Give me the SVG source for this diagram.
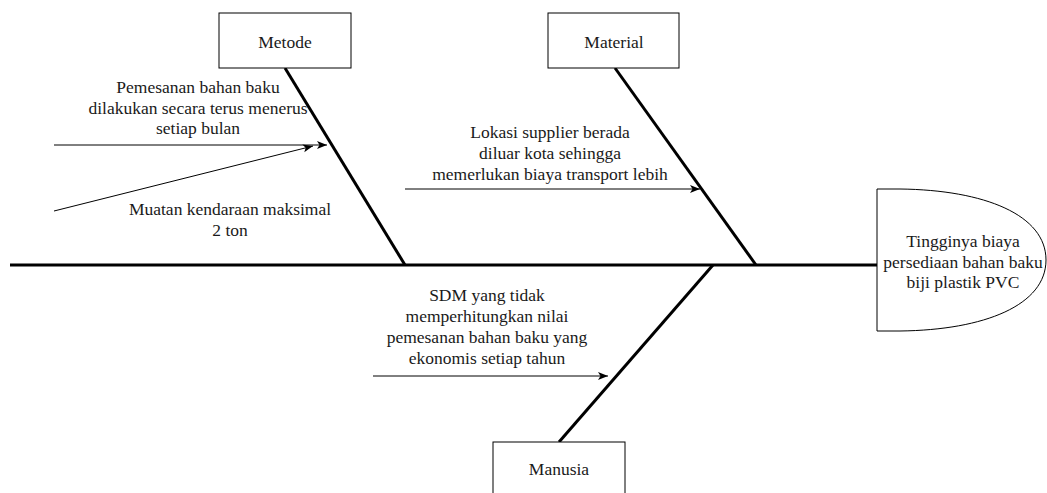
<svg xmlns="http://www.w3.org/2000/svg" width="1047" height="493" viewBox="0 0 1047 493">
<style>
  .t { font-size: 17.5px; fill: #1a1a1a; text-anchor: middle; }
  .box { fill: #ffffff; stroke: #000000; stroke-width: 1; }
  .bone { stroke: #000000; stroke-width: 3; fill: none; }
  .arrow { stroke: #000000; stroke-width: 1; fill: none; marker-end: url(#ah); }
</style>
<defs>
  <marker id="ah" viewBox="0 0 10 10" refX="10" refY="5" markerWidth="10" markerHeight="10" markerUnits="userSpaceOnUse" orient="auto">
    <path d="M0,1 L10,5 L0,9 L2.5,5 Z" fill="#000000"/>
  </marker>
</defs>
<rect width="1047" height="493" fill="#ffffff"/>
<g id="connectors">
  <line class="bone" x1="10" y1="265" x2="877" y2="265"/>
  <line class="bone" x1="285" y1="68" x2="405" y2="265"/>
  <line class="bone" x1="615" y1="68" x2="756" y2="265"/>
  <line class="bone" x1="559" y1="442" x2="713" y2="265"/>
  <line class="arrow" x1="54" y1="145" x2="327" y2="145"/>
  <line class="arrow" x1="54" y1="211" x2="313" y2="146"/>
  <line class="arrow" x1="405" y1="189" x2="700" y2="189"/>
  <line class="arrow" x1="373" y1="376" x2="608" y2="376"/>
</g>
<g font-family="Liberation Serif, Tinos, 'Times New Roman', 'DejaVu Serif', serif" class="t">
<g id="effect">
  <path class="box" d="M877,189 L900,189 C985,190 1046,215 1046,260 C1046,305 985,330 900,331 L877,331 Z"/>
  <text class="t" x="963" y="247">Tingginya biaya</text>
  <text class="t" x="963" y="267.5">persediaan bahan baku</text>
  <text class="t" x="963" y="288">biji plastik PVC</text>
</g>
<g id="metode">
  <rect class="box" x="219" y="13" width="132" height="55"/>
  <text class="t" x="285" y="48">Metode</text>
</g>
<g id="material">
  <rect class="box" x="548" y="13" width="131" height="55"/>
  <text class="t" x="614" y="48">Material</text>
</g>
<g id="manusia">
  <rect class="box" x="493" y="442" width="132" height="55"/>
  <text class="t" x="559" y="475">Manusia</text>
</g>
<g id="cause-pemesanan">
  <text class="t" x="198" y="93">Pemesanan bahan baku</text>
  <text class="t" x="198" y="113.5">dilakukan secara terus menerus</text>
  <text class="t" x="198" y="134">setiap bulan</text>
</g>
<g id="cause-muatan">
  <text class="t" x="230" y="215">Muatan kendaraan maksimal</text>
  <text class="t" x="230" y="236">2 ton</text>
</g>
<g id="cause-lokasi">
  <text class="t" x="550" y="138">Lokasi supplier berada</text>
  <text class="t" x="550" y="159">diluar kota sehingga</text>
  <text class="t" x="550" y="180">memerlukan biaya transport lebih</text>
</g>
<g id="cause-sdm">
  <text class="t" x="487" y="301">SDM yang tidak</text>
  <text class="t" x="487" y="322">memperhitungkan nilai</text>
  <text class="t" x="487" y="343">pemesanan bahan baku yang</text>
  <text class="t" x="487" y="364">ekonomis setiap tahun</text>
</g>
</g>
</svg>
